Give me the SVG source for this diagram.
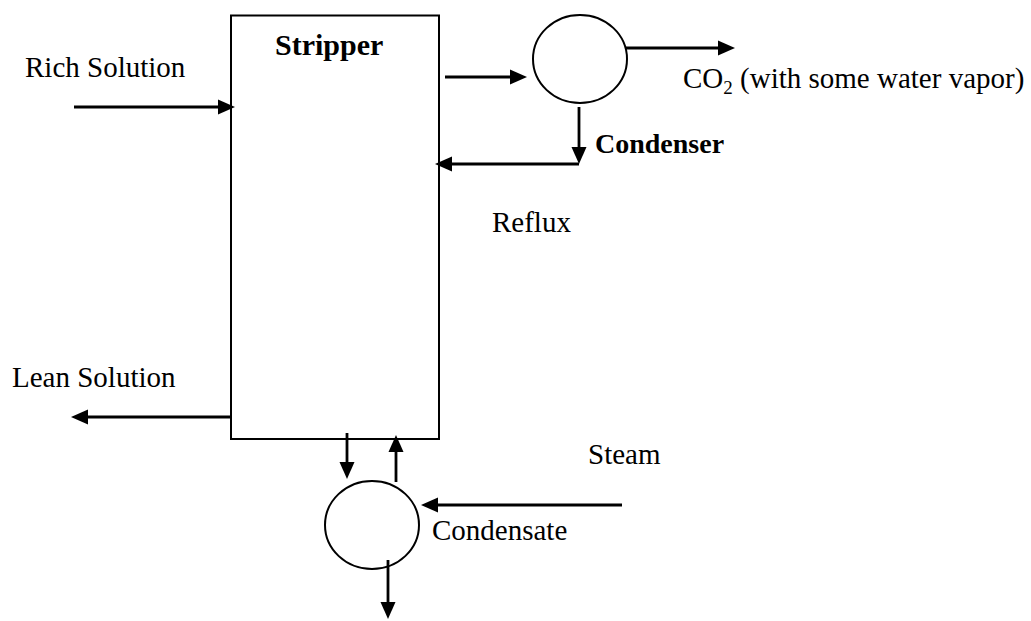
<svg xmlns="http://www.w3.org/2000/svg" width="1031" height="621" viewBox="0 0 1031 621">
<style>
.t{font-family:"Liberation Serif","Times New Roman",serif;font-size:29px;fill:#000}
.b{font-family:"Liberation Serif","Times New Roman",serif;font-weight:bold;fill:#000}
.shape{fill:none;stroke:#000;stroke-width:2}
.c{fill:none;stroke:#000;stroke-width:2.8;marker-end:url(#ah)}
</style>
<defs>
<marker id="ah" markerUnits="userSpaceOnUse" markerWidth="20" markerHeight="16" refX="9" refY="7.5" orient="auto" overflow="visible">
<path d="M0,0 L17,7.5 L0,15 z" fill="#000"/>
</marker>
</defs>
<rect width="1031" height="621" fill="#fff"/>
<g id="stripper">
<rect class="shape" x="231" y="15.5" width="208" height="423.5"/>
<text class="b" x="275" y="55" font-size="30">Stripper</text>
</g>
<g id="condenser">
<ellipse class="shape" cx="580" cy="59" rx="47" ry="44"/>
<text class="b" x="595" y="153" font-size="28">Condenser</text>
</g>
<g id="reboiler">
<ellipse class="shape" cx="372" cy="525" rx="47" ry="44"/>
</g>
<g id="connectors">
<path class="c" d="M74,107 H227"/>
<path class="c" d="M231,417 H79"/>
<path class="c" d="M445,77 H519"/>
<path class="c" d="M626,48 H727"/>
<path class="c" d="M579,107 V156"/>
<path class="c" d="M579,164 H443"/>
<path class="c" d="M347,433 V471"/>
<path class="c" d="M396,482 V443"/>
<path class="c" d="M622,505 H429"/>
<path class="c" d="M388,560 V611"/>
</g>
<g id="labels">
<text class="t" x="25" y="77">Rich Solution</text>
<text class="t" x="683" y="88">CO<tspan font-size="19" dy="6">2</tspan><tspan dy="-6"> (with some water vapor)</tspan></text>
<text class="t" x="492" y="232">Reflux</text>
<text class="t" x="12" y="387">Lean Solution</text>
<text class="t" x="588" y="464">Steam</text>
<text class="t" x="432" y="540">Condensate</text>
</g>
</svg>
